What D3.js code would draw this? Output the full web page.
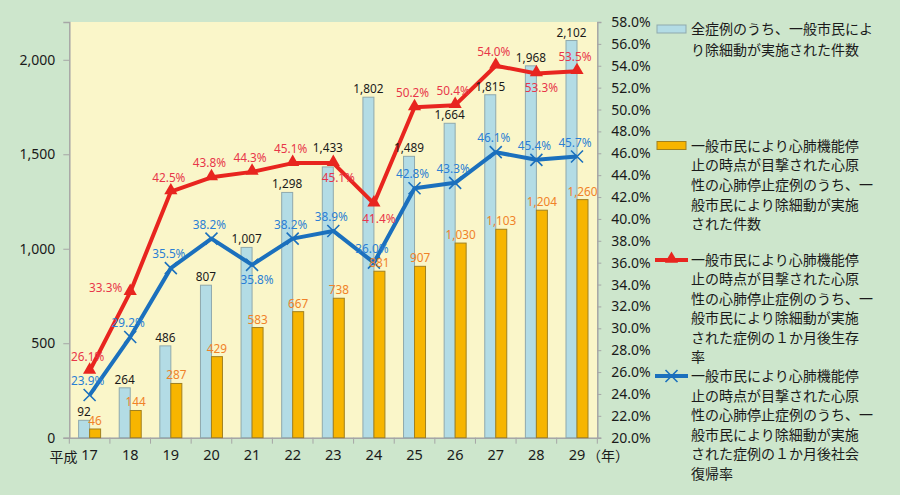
<!DOCTYPE html>
<html><head><meta charset="utf-8">
<script src="https://cdn.jsdelivr.net/npm/d3@7"></script>
<style>
html,body{margin:0;padding:0;background:#cde6cc;}
svg{display:block;font-family:"Noto Sans CJK JP","Noto Sans",sans-serif;}
</style></head>
<body>
<svg id="chart" width="900" height="495"></svg>
<script>
const years = ["17","18","19","20","21","22","23","24","25","26","27","28","29"];
const allCases = [92,264,486,807,1007,1298,1433,1802,1489,1664,1815,1968,2102];
const witnessedCases = [46,144,287,429,583,667,738,881,907,1030,1103,1204,1260];
const survivalRate = [26.1,33.3,42.5,43.8,44.3,45.1,45.1,41.4,50.2,50.4,54.0,53.3,53.5];
const returnRate = [23.9,29.2,35.5,38.2,35.8,38.2,38.9,36.0,42.8,43.3,46.1,45.4,45.7];
const leftTicks = [0,500,1000,1500,2000];
const rightTicks = d3.range(20,58.01,2);
const allCasesLabelPos = ["top","top","top","top","top","top","raised","top","top","top","top","top","top"];
const survivalLabelPos = ["above","left","above","above","above","above","below","below","above","above","above","below","above"];
const returnLabelPos = ["above","above","above","above","below","above","above","above","above","above","above","above","above"];
const legendTexts = [
  ["全症例のうち、一般市民によ","り除細動が実施された件数"],
  ["一般市民により心肺機能停","止の時点が目撃された心原","性の心肺停止症例のうち、一","般市民により除細動が実施","された件数"],
  ["一般市民により心肺機能停","止の時点が目撃された心原","性の心肺停止症例のうち、一","般市民により除細動が実施","された症例の１か月後生存","率"],
  ["一般市民により心肺機能停","止の時点が目撃された心原","性の心肺停止症例のうち、一","般市民により除細動が実施","された症例の１か月後社会","復帰率"]
];

const C = {bg:"#cde6cc", plot:"#faf6c9", lb:"#b3dce5", lbS:"#8fa9ad", or:"#f7b500", orS:"#a08020",
  red:"#e8251f", blue:"#1b70bd", redT:"#e8364a", blueT:"#2a7fd4", orT:"#f08228", axis:"#a6a6a6", txt:"#1a1a1a"};

const svg = d3.select("#chart");
svg.append("rect").attr("width",900).attr("height",495).attr("fill",C.bg);
const L=69.3, R=597.3, T=22, B=437.7;
svg.append("rect").attr("x",L).attr("y",T).attr("width",R-L).attr("height",B-T).attr("fill",C.plot);

const x = d3.scaleBand().domain(years).range([L,R]).padding(0);
const bw = x.bandwidth();
const x1 = d3.scaleBand().domain(["a","b"]).range([bw/2-11, bw/2+11]).padding(0);
const yL = d3.scaleLinear().domain([0,2200]).range([B,T]);
const yR = d3.scaleLinear().domain([20,58]).range([B,T]);

// left axis
const gl = svg.append("g").attr("transform",`translate(${L},0)`)
  .call(d3.axisLeft(yL).tickValues(leftTicks).tickFormat(d3.format(",")).tickSize(6).tickPadding(8));
gl.select(".domain").attr("stroke",C.axis).attr("stroke-width",1.5);
gl.selectAll(".tick line").attr("stroke",C.axis);
gl.selectAll("text").attr("font-size",14).attr("fill",C.txt).attr("font-family","'Noto Sans',sans-serif");

// right axis
const gr = svg.append("g").attr("transform",`translate(${R},0)`)
  .call(d3.axisRight(yR).tickValues(rightTicks).tickFormat(d=>d.toFixed(1)+"%").tickSize(4).tickPadding(10));
gr.select(".domain").attr("stroke",C.axis).attr("stroke-width",1.5);
gr.selectAll(".tick line").attr("stroke",C.axis);
gr.selectAll("text").attr("font-size",14).attr("fill",C.txt).attr("font-family","'Noto Sans',sans-serif");

// bottom axis
const gb = svg.append("g").attr("transform",`translate(0,${B})`)
  .call(d3.axisBottom(x).tickSize(0).tickPadding(12));
gb.select(".domain").attr("stroke",C.axis).attr("stroke-width",1.5);
gb.selectAll("text").attr("font-size",14.5).attr("fill",C.txt).attr("font-family","'Noto Sans',sans-serif");
const bounds = years.map(y=>x(y)).concat([R]);
gb.selectAll(".bt").data(bounds).join("line").attr("x1",d=>d).attr("x2",d=>d)
  .attr("y1",0).attr("y2",6).attr("stroke",C.axis);
svg.append("text").attr("x",x(years[0])+bw/2-12).attr("y",B+24).attr("text-anchor","end")
  .attr("font-size",14).attr("fill",C.txt).text("平成");
svg.append("text").attr("x",x(years[12])+bw/2+10).attr("y",B+23).attr("text-anchor","start")
  .attr("font-size",14).attr("fill",C.txt).text("（年）");

// bars
const bars = svg.append("g");
bars.selectAll(".b1").data(years).join("rect")
  .attr("x",d=>x(d)+x1("a")).attr("width",x1.bandwidth())
  .attr("y",(d,i)=>yL(allCases[i])).attr("height",(d,i)=>B-yL(allCases[i]))
  .attr("fill",C.lb).attr("stroke",C.lbS).attr("stroke-width",1);
bars.selectAll(".b2").data(years).join("rect")
  .attr("x",d=>x(d)+x1("b")).attr("width",x1.bandwidth())
  .attr("y",(d,i)=>yL(witnessedCases[i])).attr("height",(d,i)=>B-yL(witnessedCases[i]))
  .attr("fill",C.or).attr("stroke",C.orS).attr("stroke-width",1);

const fmt = d3.format(",");
const lblFont = "'Noto Sans',sans-serif";
const LFS = 11.8;

// lines
const cx = d=>x(d)+bw/2;
const redLine = d3.line().x((d,i)=>cx(years[i])).y(d=>yR(d));
svg.append("path").attr("d",redLine(survivalRate)).attr("fill","none").attr("stroke",C.red).attr("stroke-width",4).attr("stroke-linejoin","round");
svg.append("path").attr("d",redLine(returnRate)).attr("fill","none").attr("stroke",C.blue).attr("stroke-width",4).attr("stroke-linejoin","round");

const tri = d3.symbol().type(d3.symbolTriangle).size(75);
svg.selectAll(".tri").data(survivalRate).join("path")
  .attr("d",tri).attr("transform",(d,i)=>`translate(${cx(years[i])},${yR(d)-1})`).attr("fill",C.red);
svg.selectAll(".xm").data(returnRate).join("path")
  .attr("d","M-6,-6L6,6M-6,6L6,-6")
  .attr("transform",(d,i)=>`translate(${cx(years[i])},${yR(d)})`).attr("stroke",C.blue).attr("stroke-width",1.6).attr("fill","none");

// bar value labels
svg.selectAll(".t1").data(years).join("text")
  .attr("x",d=>x(d)+x1("a")+x1.bandwidth()/2)
  .attr("y",(d,i)=>yL(allCases[i])-(allCasesLabelPos[i]==="raised"?15:4))
  .attr("text-anchor","middle").attr("font-size",LFS).attr("font-family",lblFont).attr("fill",C.txt)
  .text((d,i)=>fmt(allCases[i]));
svg.selectAll(".t2").data(years).join("text")
  .attr("x",d=>x(d)+x1("b")+x1.bandwidth()/2).attr("y",(d,i)=>yL(witnessedCases[i])-4)
  .attr("text-anchor","middle").attr("font-size",LFS).attr("font-family",lblFont).attr("fill",C.orT)
  .text((d,i)=>fmt(witnessedCases[i]));

function place(pos, px, py){
  if(pos==="above") return {x:px-2,y:py-10,a:"middle"};
  if(pos==="below") return {x:px+5,y:py+19,a:"middle"};
  if(pos==="left") return {x:px-8,y:py,a:"end"};
  return {x:px+8,y:py+4,a:"start"};
}
svg.selectAll(".rl").data(survivalRate).join("text")
  .each(function(d,i){
    const p = place(survivalLabelPos[i], cx(years[i]), yR(d));
    d3.select(this).attr("x",p.x).attr("y",p.y).attr("text-anchor",p.a);
  })
  .attr("font-size",LFS).attr("font-family",lblFont).attr("fill",C.redT)
  .text(d=>d.toFixed(1)+"%");
svg.selectAll(".bl").data(returnRate).join("text")
  .each(function(d,i){
    const p = place(returnLabelPos[i], cx(years[i]), yR(d));
    d3.select(this).attr("x",p.x).attr("y",p.y).attr("text-anchor",p.a);
  })
  .attr("font-size",LFS).attr("font-family",lblFont).attr("fill",C.blueT)
  .text(d=>d.toFixed(1)+"%");

// legend
const lg = svg.append("g");
const legY = [29,145.5,260,376];
const lineH = [21,19.7,19.4,19.6];
legendTexts.forEach((lines,k)=>{
  const t = lg.append("text").attr("x",691).attr("font-size",14).attr("fill",C.txt);
  lines.forEach((s,j)=>t.append("tspan").attr("x",691).attr("y",legY[k]+5+j*lineH[k]).text(s));
});
lg.append("rect").attr("x",657).attr("y",legY[0]-4).attr("width",29).attr("height",8).attr("fill",C.lb).attr("stroke",C.lbS);
lg.append("rect").attr("x",657).attr("y",legY[1]-4).attr("width",29).attr("height",8).attr("fill",C.or).attr("stroke",C.orS);
lg.append("line").attr("x1",655).attr("x2",688).attr("y1",legY[2]).attr("y2",legY[2]).attr("stroke",C.red).attr("stroke-width",4);
lg.append("path").attr("d",tri).attr("transform",`translate(671.5,${legY[2]-1})`).attr("fill",C.red);
lg.append("line").attr("x1",655).attr("x2",688).attr("y1",legY[3]).attr("y2",legY[3]).attr("stroke",C.blue).attr("stroke-width",4);
lg.append("path").attr("d","M-6,-6L6,6M-6,6L6,-6").attr("transform",`translate(671.5,${legY[3]})`).attr("stroke",C.blue).attr("stroke-width",1.6);
</script>
</body></html>
